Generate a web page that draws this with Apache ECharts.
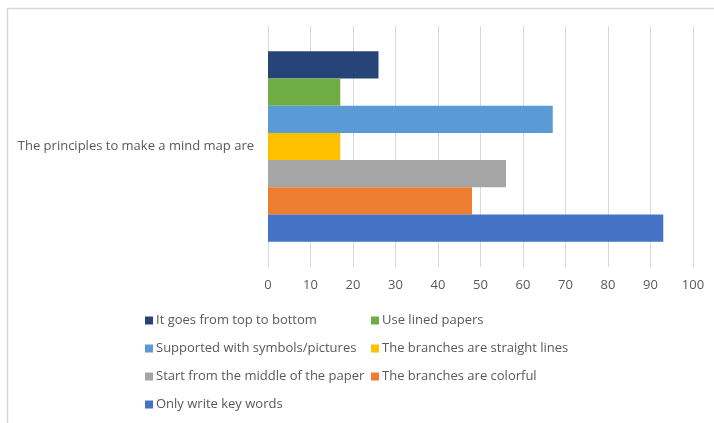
<!DOCTYPE html>
<html>
<head>
<meta charset="utf-8">
<script src="https://cdn.jsdelivr.net/npm/echarts@6/dist/echarts.min.js"></script>
<style>html,body{margin:0;padding:0;background:#fff}#c{width:714px;height:423px}</style>
</head>
<body>
<div id="c"></div>
<script>
const categories = ['The principles to make a mind map are'];
// top to bottom
const seriesNames = [
  'It goes from top to bottom',
  'Use lined papers',
  'Supported with symbols/pictures',
  'The branches are straight lines',
  'Start from the middle of the paper',
  'The branches are colorful',
  'Only write key words'
];
const seriesValues = [26, 17, 67, 17, 56, 48, 93];
const seriesColors = ['#264478', '#70AD47', '#5B9BD5', '#FFC000', '#A5A5A5', '#ED7D31', '#4472C4'];
const xTicks = [0, 10, 20, 30, 40, 50, 60, 70, 80, 90, 100];
const legendCol1 = ['It goes from top to bottom', 'Supported with symbols/pictures', 'Start from the middle of the paper', 'Only write key words'];
const legendCol2 = ['Use lined papers', 'The branches are straight lines', 'The branches are colorful'];

const font = 'Open Sans';
const txt = '#595959';
const chart = echarts.init(document.getElementById('c'), null, {renderer: 'canvas'});
const legendCommon = {
  orient: 'vertical', itemWidth: 8, itemHeight: 8, itemGap: 15, icon: 'rect',
  textStyle: {color: txt, fontFamily: font, fontSize: 13, padding: [0, 0, 0, -2]},
  selectedMode: false, padding: 0
};
chart.setOption({
  animation: false,
  textStyle: {fontFamily: font},
  graphic: [{type: 'rect', shape: {x: 7.5, y: 8.5, width: 800, height: 500}, style: {fill: 'none', stroke: '#d9d9d9', lineWidth: 1.5}, silent: true}],
  grid: {left: 268, right: 21, top: 26, bottom: 156, containLabel: false},
  xAxis: {
    type: 'value', min: 0, max: 100, interval: 10,
    axisLine: {show: false}, axisTick: {show: false},
    splitLine: {show: true, lineStyle: {color: '#d9d9d9', width: 1}},
    axisLabel: {color: txt, fontFamily: font, fontSize: 13, margin: 12,
      formatter: v => xTicks.includes(v) ? String(v) : ''}
  },
  yAxis: {
    type: 'category', data: categories,
    axisLine: {show: false}, axisTick: {show: false},
    axisLabel: {color: txt, fontFamily: font, fontSize: 13, margin: 14}
  },
  legend: [
    Object.assign({}, legendCommon, {left: 145, top: 314, data: legendCol1}),
    Object.assign({}, legendCommon, {left: 371, top: 314, data: legendCol2})
  ],
  series: seriesNames.map((n, i) => ({
    name: n, type: 'bar', data: [seriesValues[i]],
    barGap: '0%', barCategoryGap: '21%',
    itemStyle: {color: seriesColors[i]}
  }))
});
</script>
</body>
</html>
